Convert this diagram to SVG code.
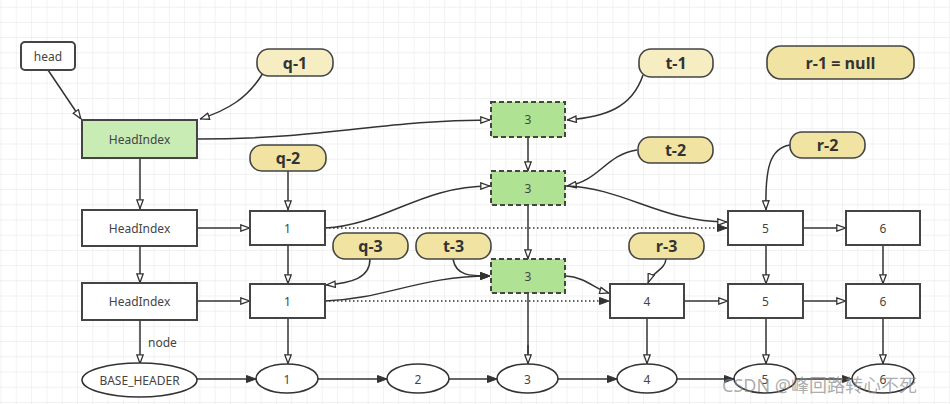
<svg xmlns="http://www.w3.org/2000/svg" width="950" height="404" viewBox="0 0 950 404">
<defs>
<pattern id="grid" x="0.5" y="6.7" width="15.3" height="15.2" patternUnits="userSpaceOnUse">
<path d="M0,0 H15.3 M0,0 V15.2" stroke="#ebebeb" stroke-width="1.2" fill="none"/>
</pattern>
<marker id="open" viewBox="0 0 10 8" refX="10" refY="4" markerWidth="10" markerHeight="8" markerUnits="userSpaceOnUse" orient="auto">
<path d="M0.8,0.8 L9.5,4 L0.8,7.2 z" fill="#fff" stroke="#333" stroke-width="1.3"/>
</marker>
<marker id="fill" viewBox="0 0 10 8" refX="10" refY="4" markerWidth="10" markerHeight="8" markerUnits="userSpaceOnUse" orient="auto">
<path d="M0.5,0.5 L10,4 L0.5,7.5 z" fill="#333" stroke="#333" stroke-width="1"/>
</marker>
</defs>
<style>
.box{fill:#fff;stroke:#444;stroke-width:2}
.green{fill:#c9ecb4;stroke:#444;stroke-width:2}
.dash{fill:#afe293;stroke:#444;stroke-width:2;stroke-dasharray:5 3}
.pl{fill:#f6edc3;stroke:#444;stroke-width:1.6}
.pd{fill:#f1e3a2;stroke:#444;stroke-width:1.6}
.el{fill:#fff;stroke:#333;stroke-width:1.6}
.t{font-family:"Noto Sans","Open Sans",sans-serif;font-size:12px;fill:#444;text-anchor:middle;dominant-baseline:central}
.b{font-family:"Open Sans","Noto Sans",sans-serif;font-size:16px;font-weight:bold;fill:#333;text-anchor:middle;dominant-baseline:central}
.c{fill:none;stroke:#333;stroke-width:1.5}
.o{marker-end:url(#open)}
.f{marker-end:url(#fill)}
.d{stroke-dasharray:1.5 2.5;stroke-width:1.6}
</style>
<rect width="950" height="404" fill="#fff"/>
<rect width="950" height="404" fill="url(#grid)"/>

<g id="connectors">
<path class="c o" d="M48,70 L81,119"/>
<path class="c o" d="M263,73 C248,98 228,110 200,119"/>
<path class="c o" d="M197,139 C330,139 380,120 490,120"/>
<path class="c o" d="M643,75 C632,108 605,117 567,120"/>
<path class="c o" d="M528,137 V171"/>
<path class="c o" d="M637,150 C605,155 600,181 567,186"/>
<path class="c o" d="M566,186 C625,188 660,222 727,222"/>
<path class="c o" d="M790,145 C770,148 765,168 766,210"/>
<path class="c o" d="M288,171 V210"/>
<path class="c o" d="M140,158 V209"/>
<path class="c o" d="M197,228 H250"/>
<path class="c o" d="M325,228 C385,225 420,186 490,186"/>
<path class="c d f" d="M325,228 H727"/>
<path class="c o" d="M803,228 H846"/>
<path class="c o" d="M140,246 V283"/>
<path class="c o" d="M288,245 V284"/>
<path class="c o" d="M528,205 V259"/>
<path class="c o" d="M766,245 V284"/>
<path class="c o" d="M883,245 V284"/>
<path class="c o" d="M370,259 C370,278 352,283 326,285"/>
<path class="c f" d="M453,259 C456,276 470,276 490,276"/>
<path class="c o" d="M666,259 C665,270 652,272 648,283"/>
<path class="c o" d="M197,301 H250"/>
<path class="c f" d="M325,301 C385,299 420,276 490,276"/>
<path class="c d f" d="M325,301 H609"/>
<path class="c o" d="M566,276 C585,277 595,289 609,293"/>
<path class="c o" d="M684,301 H728"/>
<path class="c o" d="M803,301 H846"/>
<path class="c o" d="M140,320 V364"/>
<path class="c o" d="M288,318 V364"/>
<path class="c" d="M528,293 V364"/>
<path class="c o" d="M528,345 V364"/>
<path class="c o" d="M647,318 V364"/>
<path class="c o" d="M766,318 V364"/>
<path class="c o" d="M883,318 V364"/>
<path class="c f" d="M197,379 H256"/>
<path class="c f" d="M318,379 H387"/>
<path class="c f" d="M449,379 H497"/>
<path class="c f" d="M558,379 H617"/>
<path class="c f" d="M677,379 H734"/>
<path class="c f" d="M796,379 H852"/>
<text x="148" y="342" class="t" style="text-anchor:start">node</text>
</g>

<g id="head"><rect class="box" x="21" y="42" width="54" height="28" rx="4" stroke-width="1.6"/><text class="t" x="48" y="56">head</text></g>
<g id="q1"><rect class="pl" x="257" y="49" width="76" height="27" rx="12"/><text class="b" x="295" y="62.5">q-1</text></g>
<g id="t1"><rect class="pl" x="639" y="49" width="74" height="28" rx="12"/><text class="b" x="676" y="63">t-1</text></g>
<g id="r1"><rect class="pd" x="767" y="46" width="147" height="33" rx="14"/><text class="b" x="840.5" y="62.5">r-1 = null</text></g>
<g id="q2"><rect class="pd" x="250" y="145" width="76" height="26" rx="12"/><text class="b" x="288" y="158">q-2</text></g>
<g id="t2"><rect class="pd" x="638" y="137" width="75" height="26" rx="12"/><text class="b" x="675.5" y="150">t-2</text></g>
<g id="r2"><rect class="pd" x="790" y="132" width="75" height="26" rx="12"/><text class="b" x="827.5" y="145">r-2</text></g>
<g id="q3"><rect class="pd" x="333" y="233" width="75" height="26" rx="12"/><text class="b" x="370.5" y="246">q-3</text></g>
<g id="t3"><rect class="pd" x="416" y="233" width="75" height="26" rx="12"/><text class="b" x="453.5" y="246">t-3</text></g>
<g id="r3"><rect class="pd" x="629" y="233" width="75" height="26" rx="12"/><text class="b" x="666.5" y="246">r-3</text></g>

<g id="hi0"><rect class="green" x="82" y="120" width="115" height="38"/><text class="t" x="139.5" y="139">HeadIndex</text></g>
<g id="hi1"><rect class="box" x="82" y="210" width="115" height="36"/><text class="t" x="139.5" y="228">HeadIndex</text></g>
<g id="hi2"><rect class="box" x="82" y="283" width="115" height="37"/><text class="t" x="139.5" y="301.5">HeadIndex</text></g>
<g id="n3a"><rect class="dash" x="491" y="102" width="74" height="35"/><text class="t" x="528" y="119.5">3</text></g>
<g id="n3b"><rect class="dash" x="491" y="171" width="74" height="34"/><text class="t" x="528" y="188">3</text></g>
<g id="n3c"><rect class="dash" x="491" y="259" width="74" height="34"/><text class="t" x="528" y="276">3</text></g>
<g id="n1a"><rect class="box" x="250" y="211" width="75" height="34"/><text class="t" x="287.5" y="228">1</text></g>
<g id="n5a"><rect class="box" x="728" y="211" width="75" height="34"/><text class="t" x="765.5" y="228">5</text></g>
<g id="n6a"><rect class="box" x="846" y="211" width="74" height="34"/><text class="t" x="883" y="228">6</text></g>
<g id="n1b"><rect class="box" x="250" y="284" width="75" height="34"/><text class="t" x="287.5" y="301">1</text></g>
<g id="n4b"><rect class="box" x="610" y="284" width="74" height="34"/><text class="t" x="647" y="301">4</text></g>
<g id="n5b"><rect class="box" x="728" y="284" width="75" height="34"/><text class="t" x="765.5" y="301">5</text></g>
<g id="n6b"><rect class="box" x="846" y="284" width="74" height="34"/><text class="t" x="883" y="301">6</text></g>

<g id="base"><ellipse class="el" cx="139.5" cy="380" rx="57.5" ry="17"/><text class="t" x="139.5" y="380">BASE_HEADER</text></g>
<g id="e1"><ellipse class="el" cx="287" cy="378.5" rx="31" ry="14.5"/><text class="t" x="287" y="379">1</text></g>
<g id="e2"><ellipse class="el" cx="418" cy="378.5" rx="31" ry="14.5"/><text class="t" x="418" y="379">2</text></g>
<g id="e3"><ellipse class="el" cx="527.5" cy="378.5" rx="30.5" ry="14.5"/><text class="t" x="527.5" y="379">3</text></g>
<g id="e4"><ellipse class="el" cx="647" cy="378.5" rx="30" ry="14.5"/><text class="t" x="647" y="379">4</text></g>
<g id="e5"><ellipse class="el" cx="765" cy="378.5" rx="31" ry="14.5"/><text class="t" x="765" y="379">5</text></g>
<g id="e6"><ellipse class="el" cx="883" cy="378.5" rx="31" ry="14.5"/><text class="t" x="883" y="379">6</text></g>

<text x="722" y="392" style="font-family:'Noto Sans','Noto Sans CJK SC',sans-serif;font-size:18px;fill:#888;fill-opacity:0.7">CSDN @峰回路转心不死</text>
</svg>
